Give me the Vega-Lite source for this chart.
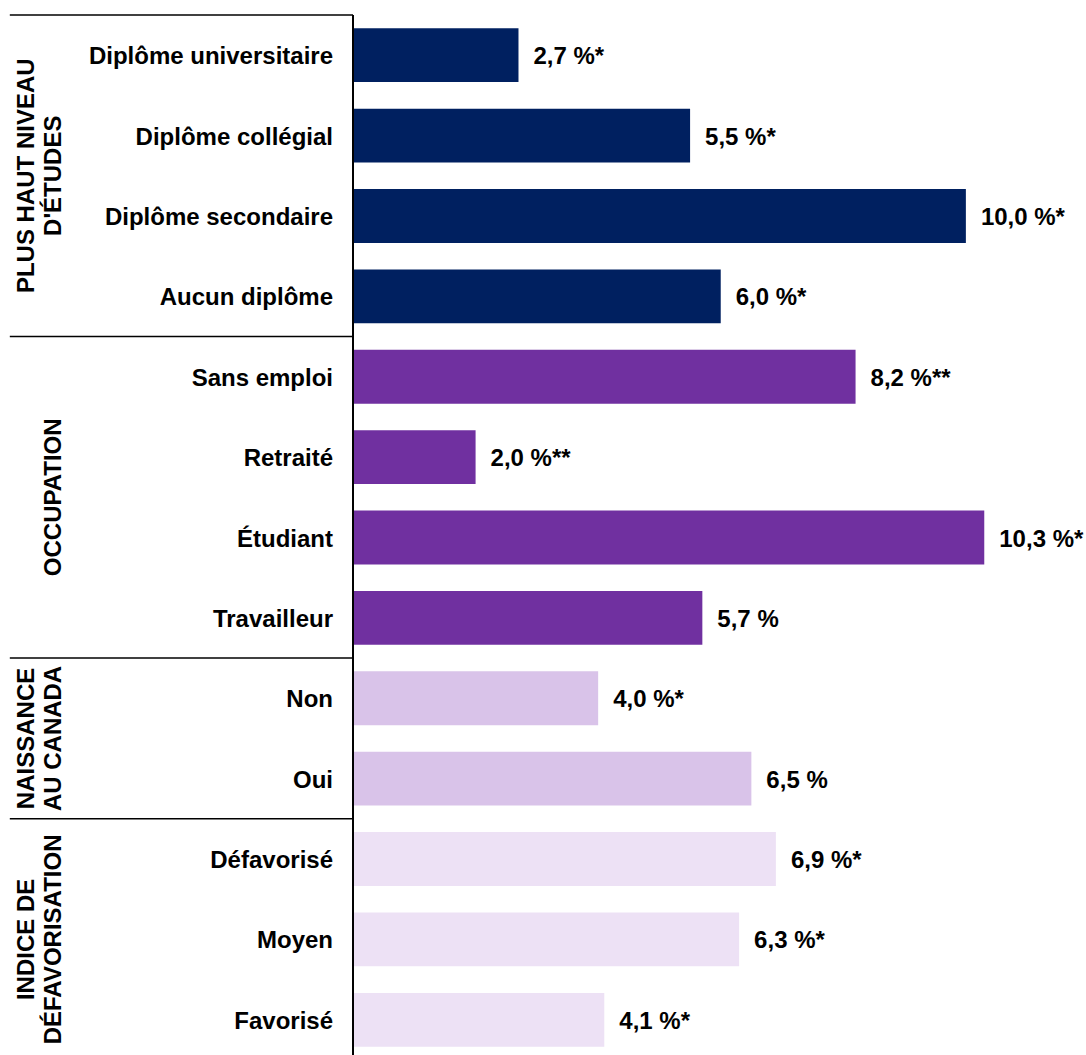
{
  "$schema": "https://vega.github.io/schema/vega-lite/v6.json",
  "width": 1086,
  "height": 1045,
  "autosize": {"type": "none"},
  "padding": {"left": 0, "top": 15, "right": 0, "bottom": 0},
  "background": "white",
  "config": {
    "view": {"stroke": null},
    "font": "Liberation Sans",
    "text": {"font": "Liberation Sans", "fontWeight": "bold", "fontSize": 24, "color": "black"}
  },
  "datasets": {
    "bars": [
      {"cat": "Diplôme universitaire", "value": 2.7, "label": "2,7 %*", "grp": "educ"},
      {"cat": "Diplôme collégial", "value": 5.5, "label": "5,5 %*", "grp": "educ"},
      {"cat": "Diplôme secondaire", "value": 10.0, "label": "10,0 %*", "grp": "educ"},
      {"cat": "Aucun diplôme", "value": 6.0, "label": "6,0 %*", "grp": "educ"},
      {"cat": "Sans emploi", "value": 8.2, "label": "8,2 %**", "grp": "occ"},
      {"cat": "Retraité", "value": 2.0, "label": "2,0 %**", "grp": "occ"},
      {"cat": "Étudiant", "value": 10.3, "label": "10,3 %*", "grp": "occ"},
      {"cat": "Travailleur", "value": 5.7, "label": "5,7 %", "grp": "occ"},
      {"cat": "Non", "value": 4.0, "label": "4,0 %*", "grp": "nais"},
      {"cat": "Oui", "value": 6.5, "label": "6,5 %", "grp": "nais"},
      {"cat": "Défavorisé", "value": 6.9, "label": "6,9 %*", "grp": "indice"},
      {"cat": "Moyen", "value": 6.3, "label": "6,3 %*", "grp": "indice"},
      {"cat": "Favorisé", "value": 4.1, "label": "4,1 %*", "grp": "indice"}
    ],
    "groups": [
      {"grp": "educ", "title": "PLUS HAUT NIVEAU\nD'ÉTUDES", "first": "Diplôme universitaire", "mid": "Diplôme collégial"},
      {"grp": "occ", "title": "\nOCCUPATION", "first": "Sans emploi", "mid": "Retraité"},
      {"grp": "nais", "title": "NAISSANCE\nAU CANADA", "first": "Non", "mid": "Non"},
      {"grp": "indice", "title": "INDICE DE\nDÉFAVORISATION", "first": "Défavorisé", "mid": "Moyen"}
    ]
  },
  "layer": [
    {
      "data": {"name": "bars"},
      "mark": {"type": "bar", "height": {"band": 0.67}},
      "encoding": {
        "y": {"field": "cat", "type": "nominal", "sort": null, "axis": null,
              "scale": {"domain": ["Diplôme universitaire", "Diplôme collégial", "Diplôme secondaire", "Aucun diplôme", "Sans emploi", "Retraité", "Étudiant", "Travailleur", "Non", "Oui", "Défavorisé", "Moyen", "Favorisé"],
                        "paddingInner": 0, "paddingOuter": 0}},
        "x": {"field": "value", "type": "quantitative", "axis": null,
              "scale": {"domain": [-5.76, 11.96], "nice": false, "zero": false}},
        "color": {"field": "grp", "type": "nominal", "legend": null,
                  "scale": {"domain": ["educ", "occ", "nais", "indice"],
                            "range": ["#002060", "#7030A0", "#D9C3E9", "#EDE1F5"]}}
      }
    },
    {
      "data": {"name": "bars"},
      "mark": {"type": "text", "align": "left", "baseline": "middle", "dx": 15, "dy": 2},
      "encoding": {
        "y": {"field": "cat", "type": "nominal", "sort": null},
        "x": {"field": "value", "type": "quantitative"},
        "text": {"field": "label"}
      }
    },
    {
      "data": {"name": "bars"},
      "mark": {"type": "text", "align": "right", "baseline": "middle", "dx": -20, "dy": 2},
      "encoding": {
        "y": {"field": "cat", "type": "nominal", "sort": null},
        "x": {"datum": 0},
        "text": {"field": "cat"}
      }
    },
    {
      "data": {"name": "groups"},
      "mark": {"type": "rule", "color": "black", "strokeWidth": 1.5},
      "encoding": {
        "y": {"field": "first", "type": "nominal", "bandPosition": 0},
        "x": {"datum": -5.6},
        "x2": {"datum": 0}
      }
    },
    {
      "data": {"name": "groups"},
      "mark": {"type": "rule", "color": "black", "strokeWidth": 1.5},
      "encoding": {"x": {"datum": 0}}
    },
    {
      "data": {"name": "groups"},
      "transform": [{"filter": "datum.grp !== 'indice'"}],
      "mark": {"type": "text", "angle": 270, "align": "center", "baseline": "middle", "lineBreak": "\n", "lineHeight": 27},
      "encoding": {
        "y": {"field": "mid", "type": "nominal", "bandPosition": 1},
        "x": {"datum": -5.327},
        "text": {"field": "title"}
      }
    },
    {
      "data": {"name": "groups"},
      "transform": [{"filter": "datum.grp === 'indice'"}],
      "mark": {"type": "text", "angle": 270, "align": "center", "baseline": "middle", "lineBreak": "\n", "lineHeight": 27},
      "encoding": {
        "y": {"field": "mid", "type": "nominal", "bandPosition": 0.5},
        "x": {"datum": -5.327},
        "text": {"field": "title"}
      }
    }
  ]
}
